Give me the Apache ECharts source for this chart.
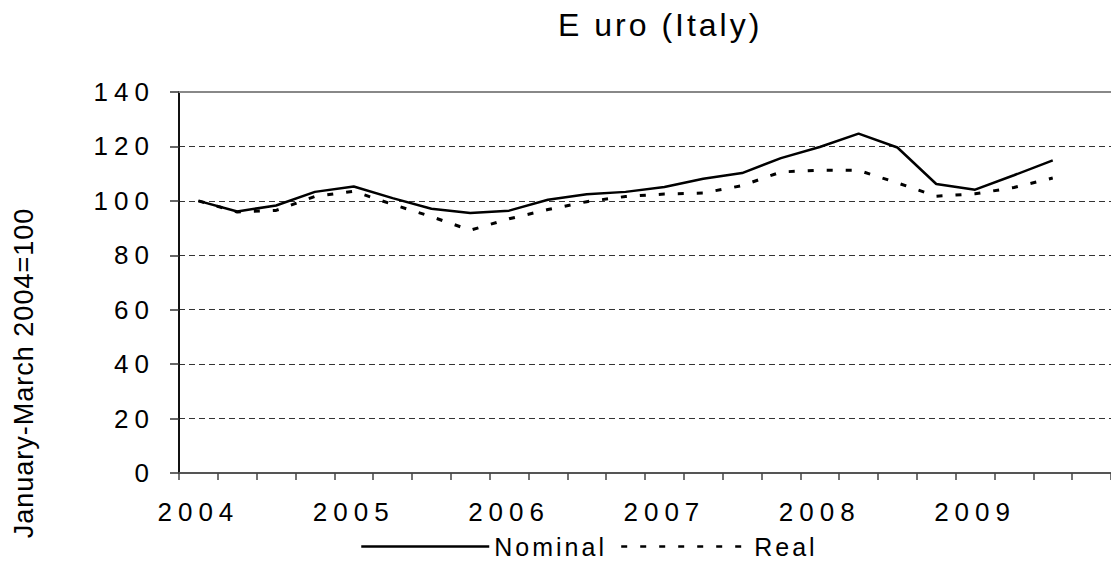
<!DOCTYPE html>
<html>
<head>
<meta charset="utf-8">
<title>Euro (Italy)</title>
<script src="https://cdn.jsdelivr.net/npm/echarts@6/dist/echarts.min.js"></script>
<style>
    html, body { margin: 0; padding: 0; background: #fff; }
    #chart { width: 1111px; height: 570px; overflow: hidden; }
    /* the source chart uses widely spaced lettering */
    #chart text { letter-spacing: 6px; }
    #chart text[style*="25px"] { letter-spacing: 3px; }
    #chart text[style*="27px"] { letter-spacing: 1px; }
    #chart text[style*="32px"] { letter-spacing: 3px; }
</style>
</head>
<body>
<div id="chart"></div>
<script>
const quarters = [
    "2004Q1", "2004Q2", "2004Q3", "2004Q4",
    "2005Q1", "2005Q2", "2005Q3", "2005Q4",
    "2006Q1", "2006Q2", "2006Q3", "2006Q4",
    "2007Q1", "2007Q2", "2007Q3", "2007Q4",
    "2008Q1", "2008Q2", "2008Q3", "2008Q4",
    "2009Q1", "2009Q2", "2009Q3", "2009Q4"
];
const nominal = [100, 96.1, 98.3, 103.3, 105.3, 101.0, 97.1, 95.5, 96.4, 100.4, 102.4, 103.3,
    105.1, 108.1, 110.2, 115.7, 119.8, 124.7, 119.6, 106.2, 104.1, 109.4, 114.9];
const real = [100, 95.9, 96.5, 101.6, 103.5, 98.7, 94.2, 89.2, 93.4, 96.8, 99.7, 101.6,
    102.5, 102.9, 105.6, 110.6, 111.3, 111.2, 106.6, 101.7, 102.6, 104.9, 108.4];
const yTicks = [0, 20, 40, 60, 80, 100, 120, 140];

const FONT = "Liberation Sans";

const chart = echarts.init(document.getElementById("chart"), null, {renderer: "svg"});

const option = {
    animation: false,
    backgroundColor: "#fff",
    title: {
        text: "E uro (Italy)",
        left: 553,
        top: 4,
        padding: 5,
        textStyle: {fontFamily: FONT, fontSize: 32, fontWeight: "normal", color: "#000"},
    },
    legend: {
        left: 360,
        top: 534,
        padding: 0,
        itemWidth: 128,
        itemHeight: 14,
        itemGap: 34,
        itemStyle: {opacity: 0},
        lineStyle: {width: 2.5},
        textStyle: {fontFamily: FONT, fontSize: 25, color: "#000"},
        data: ["Nominal", "Real"],
    },
    grid: {left: 179, top: 92, width: 939, height: 381, containLabel: false},
    graphic: [
        {
            type: "text",
            x: 24,
            y: 373,
            rotation: Math.PI / 2,
            style: {
                text: "January-March 2004=100",
                fontFamily: FONT,
                fontSize: 27,
                fill: "#000",
                textAlign: "center",
                textVerticalAlign: "middle",
            },
        },
    ],
    xAxis: [
        {
            type: "category",
            data: quarters,
            boundaryGap: true,
            axisLine: {lineStyle: {color: "#555", width: 2}},
            axisTick: {show: true, interval: 0, length: 7, lineStyle: {color: "#444", width: 1.5}},
            axisLabel: {
                interval: 3,
                margin: 26,
                formatter: (v) => v.slice(0, 4),
                fontFamily: FONT,
                fontSize: 26,
                color: "#000",
            },
            splitLine: {show: false},
        },
        {
            // solid grey frame line on top of the plot
            type: "category",
            data: quarters,
            position: "top",
            axisLine: {onZero: false, lineStyle: {color: "#888", width: 2}},
            axisTick: {show: false},
            axisLabel: {show: false},
            splitLine: {show: false},
        },
    ],
    yAxis: {
        type: "value",
        min: yTicks[0],
        max: yTicks[yTicks.length - 1],
        interval: 20,
        axisLine: {show: true, lineStyle: {color: "#111", width: 2}},
        axisTick: {show: true, length: 9, lineStyle: {color: "#333", width: 1.5}},
        axisLabel: {margin: 24, fontFamily: FONT, fontSize: 26, color: "#000"},
        splitLine: {show: true, lineStyle: {color: "#333", width: 1, type: [6, 4]}},
    },
    series: [
        {
            name: "Real",
            type: "line",
            data: real,
            symbol: "none",
            lineStyle: {color: "#000", width: 3, type: [6, 13], cap: "butt"},
            itemStyle: {color: "#000"},
            z: 3,
        },
        {
            name: "Nominal",
            type: "line",
            data: nominal,
            symbol: "none",
            lineStyle: {color: "#000", width: 2.5},
            itemStyle: {color: "#000"},
            z: 4,
        },
    ],
};

chart.setOption(option);
</script>
</body>
</html>
